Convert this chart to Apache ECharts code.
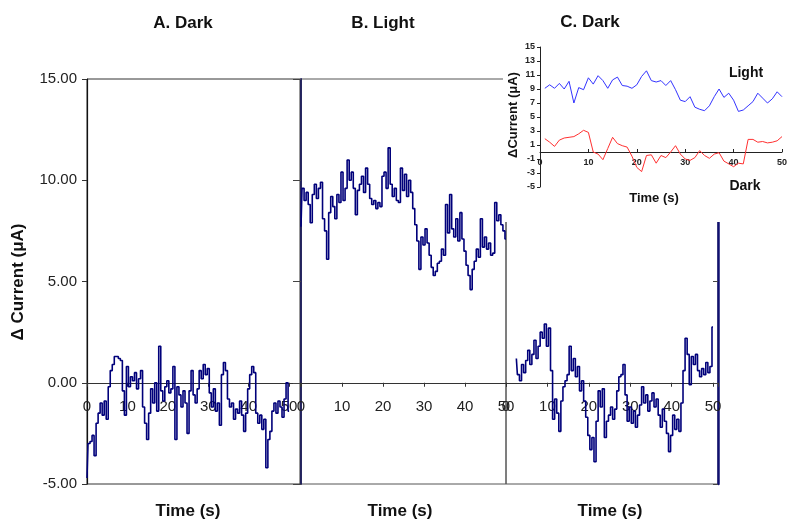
<!DOCTYPE html>
<html><head><meta charset="utf-8">
<script src="https://cdn.jsdelivr.net/npm/echarts@6/dist/echarts.min.js"></script>
<style>html,body{margin:0;padding:0;background:#fff}#c{width:790px;height:521px}</style>
</head><body><div id="c"></div>
<script>
// ---- data ----
const STEP = 0.5;          // seconds between samples in the main traces
const A_START = 0;
const darkA = [
 -4.7,-3.0,-2.9,-2.6,-3.6,-2.0,-1.5,-1.0,-1.6,-0.9,
 -1.8,-0.2,0.6,0.9,1.3,1.3,1.2,1.1,-0.4,-1.6,
 0.8,-0.2,0.3,0.1,0.5,-0.3,0.2,0.6,-1.2,-2.0,
 -2.8,-1.5,-0.3,-1.0,0.0,-1.4,1.8,-0.4,-0.9,-0.2,
 0.1,-0.5,-0.3,0.8,-2.8,-0.2,-0.6,-1.2,-0.4,-1.0,
 -2.5,-0.4,0.6,-0.6,-1.0,-0.3,0.6,0.2,0.9,0.4,
 0.7,-0.5,-1.2,-0.3,-1.4,-1.0,-2.1,0.4,1.0,0.6,
 -0.8,-1.2,-1.0,-1.8,-1.3,-1.5,-0.9,-1.6,-2.4,-1.5,
 -0.3,0.4,0.8,0.5,-1.5,-2.0,-1.6,-2.3,-1.8,-4.2,
 -2.8,-2.4,-1.4,-1.0,-1.5,-0.9,-1.2,-1.7,-0.8,0.0,
 -1.4
];
const B_START = 0;
const lightB = [
 7.7,9.6,9.0,9.4,8.8,7.9,9.3,9.8,9.1,9.6,
 9.9,8.1,7.5,6.1,8.4,9.2,8.7,8.1,9.3,8.9,
 10.4,9.0,9.6,11.0,10.0,10.4,9.6,8.3,9.5,9.8,
 10.2,9.4,10.6,9.8,9.1,8.8,9.0,8.6,8.9,8.7,
 10.2,10.4,9.6,11.6,9.8,9.2,9.6,9.0,8.9,10.6,
 9.5,10.3,9.2,10.0,9.4,8.6,7.8,7.0,5.6,7.2,
 6.8,7.6,6.9,6.3,5.7,5.3,5.5,5.9,6.0,6.6,
 6.3,8.8,7.4,9.3,7.6,7.2,8.1,7.0,8.4,7.1,
 6.5,5.8,5.3,4.6,5.6,6.0,6.6,6.2,8.1,6.7,
 7.2,6.6,6.9,6.3,6.4,8.9,8.0,8.3,7.8,7.5,
 7.1
];
const C_START = 2.5;
const darkC = [
 1.2,0.4,0.1,0.9,0.5,1.1,1.6,0.9,1.4,2.1,
 1.2,1.8,2.5,2.2,2.9,1.8,2.7,0.6,-1.8,-0.8,
 -1.5,-2.4,-0.9,-0.2,0.1,0.4,1.8,0.6,1.2,0.3,
 0.8,-0.4,0.1,-0.9,-1.7,-2.6,-3.3,-2.7,-3.9,-1.9,
 -0.4,-1.2,-0.3,-2.7,-1.9,-1.6,-1.2,-1.8,-1.3,-0.4,
 0.3,0.4,0.9,-0.6,-1.9,-1.2,-2.0,-1.4,-2.2,-1.6,
 -1.1,-0.2,-1.0,-0.6,-1.4,-0.9,-0.5,-1.2,-0.8,-1.6,
 -2.2,-1.3,-1.9,-2.5,-3.4,-2.6,-1.6,-2.3,-1.8,-2.4,
 -1.0,0.6,2.2,1.4,-0.1,1.3,0.9,1.4,0.6,0.3,
 0.7,0.4,1.0,0.5,0.8,2.75
];
const insetTimes = [1,2,3,4,5,6,7,8,9,10,11,12,13,14,15,16,17,18,19,20,21,22,23,24,25,
 26,27,28,29,30,31,32,33,34,35,36,37,38,39,40,41,42,43,44,45,46,47,48,49,50];
const insetLight = [
 9.1,9.6,9.1,9.8,9.0,10.1,7.0,9.2,8.9,10.6,
 9.7,10.9,10.2,9.1,10.3,10.7,9.5,9.4,9.1,9.6,
 10.8,11.6,10.2,10.0,10.2,9.5,10.2,8.9,7.4,7.2,
 7.9,6.4,6.1,5.9,6.6,7.9,9.0,7.8,8.4,7.4,
 5.8,6.0,6.6,7.2,8.4,7.7,7.0,7.6,8.6,7.9
];
const insetDark = [
 1.9,1.4,0.8,1.7,2.0,2.1,2.2,2.6,3.1,2.8,
 0.0,-0.3,-1.1,0.5,2.1,1.2,0.9,0.7,-0.6,-2.2,
 -2.8,-0.5,-0.4,-1.6,-0.5,-0.8,0.0,0.9,-0.3,-1.0,
 -1.2,-0.8,0.2,-0.5,-0.9,-0.3,-0.1,-1.3,-1.7,-2.1,
 -1.6,-1.7,1.8,1.8,1.4,1.5,1.3,1.4,1.6,2.2
];
const mainYTicks = {min:-5, max:15, step:5};
const insetYTicks = {min:-5, max:15, step:2};
const xTickStep = 10;
const panelTitles = ['A. Dark','B. Light','C. Dark'];

// ---- build ----
function pairs(start, vals){ return vals.map((v,i)=>[start + i*STEP, v]); }
const FF = '"Liberation Sans", Arial, sans-serif';
const navy = '#00007a';
const chart = echarts.init(document.getElementById('c'), null, {renderer:'canvas'});

function mainX(grid, max){
  return {type:'value', gridIndex:grid, min:0, max:max, interval:xTickStep,
    axisLine:{show:true, onZero:true, lineStyle:{color:'#333', width:1}},
    axisTick:{show:true, length:4, lineStyle:{color:'#333'}},
    axisLabel:{fontFamily:FF, fontSize:15, color:'#222', margin:-85,
      formatter:v=> (Math.abs(v % xTickStep) < 1e-6 ? String(v) : '')},
    splitLine:{show:false}};
}
function mainY(grid, extra){
  return Object.assign({type:'value', gridIndex:grid, min:mainYTicks.min, max:mainYTicks.max, interval:mainYTicks.step,
    splitLine:{show:false}}, extra);
}
const textEl = (text, x, y, size, rot) => ({type:'text', x:x, y:y, rotation:rot||0, z:40,
  style:{text:text, fill:'#111', font:'bold '+size+'px '+FF, align:'center', verticalAlign:'middle',
    textAlign:'center', textVerticalAlign:'middle'}});
const trace = (idx, start, vals) => ({type:'line', xAxisIndex:idx, yAxisIndex:idx, data:pairs(start, vals),
  showSymbol:false, step:'middle', lineStyle:{color:navy, width:1.6}, z:2});

const option = {
  animation:false,
  backgroundColor:'#fff',
  grid:[
    {left:87, top:79, width:213, height:405, show:true, borderColor:'#333', borderWidth:1},
    {left:301, top:79, width:205, height:405, show:true, borderColor:'#555', borderWidth:1},
    {left:506, top:79, width:212, height:405, show:true, borderColor:'#555', borderWidth:1},
    {left:540, top:47, width:250, height:140}
  ],
  xAxis:[
    mainX(0, 52.7), mainX(1, 50), mainX(2, 51.2),
    {type:'value', gridIndex:3, min:0, max:50, interval:xTickStep, z:30,
      axisLine:{show:true, onZero:true, lineStyle:{color:'#222', width:1}},
      axisTick:{show:true, inside:true, length:3, lineStyle:{color:'#222'}},
      axisLabel:{fontFamily:FF, fontSize:9, fontWeight:'bold', color:'#222', margin:-29},
      splitLine:{show:false}}
  ],
  yAxis:[
    mainY(0, {axisLine:{show:true, onZero:false, lineStyle:{color:'#111', width:1.2}},
      axisTick:{show:true, length:5, lineStyle:{color:'#333'}},
      axisLabel:{fontFamily:FF, fontSize:15, color:'#222', margin:10, formatter:v=>v.toFixed(2)}}),
    mainY(1, {axisLine:{show:true, onZero:false, lineStyle:{color:'#1a1a5a', width:1.8}},
      axisTick:{show:true, length:8, lineStyle:{color:'#444'}},
      axisLabel:{show:false}}),
    mainY(2, {position:'right', axisLine:{show:true, onZero:false, lineStyle:{color:'#101070', width:2.5}},
      axisTick:{show:true, inside:true, length:5, lineStyle:{color:'#444'}},
      axisLabel:{show:false}}),
    {type:'value', gridIndex:3, min:insetYTicks.min, max:insetYTicks.max, interval:insetYTicks.step, z:30,
      axisLine:{show:true, onZero:false, lineStyle:{color:'#222', width:1}},
      axisTick:{show:true, length:3, lineStyle:{color:'#222'}},
      axisLabel:{fontFamily:FF, fontSize:9, fontWeight:'bold', color:'#222', margin:5},
      splitLine:{show:false}}
  ],
  series:[
    trace(0, A_START, darkA),
    trace(1, B_START, lightB),
    trace(2, C_START, darkC),
    {type:'line', xAxisIndex:3, yAxisIndex:3, data:insetTimes.map((t,i)=>[t, insetLight[i]]), showSymbol:false,
      lineStyle:{color:'#3333ff', width:1}, z:30},
    {type:'line', xAxisIndex:3, yAxisIndex:3, data:insetTimes.map((t,i)=>[t, insetDark[i]]), showSymbol:false,
      lineStyle:{color:'#ff3030', width:1}, z:30}
  ],
  graphic:[
    {type:'rect', shape:{x:503, y:0, width:287, height:222}, style:{fill:'#fff'}, z:10, silent:true},
    textEl(panelTitles[0], 183, 23, 17),
    textEl(panelTitles[1], 383, 23, 17),
    textEl(panelTitles[2], 590, 22, 17),
    textEl('Time (s)', 188, 511, 17),
    textEl('Time (s)', 400, 511, 17),
    textEl('Time (s)', 610, 511, 17),
    textEl('\u0394 Current (\u03bcA)', 18, 282, 17, Math.PI/2),
    textEl('\u0394Current (\u03bcA)', 513, 115, 13, Math.PI/2),
    textEl('Time (s)', 654, 198, 13),
    textEl('Light', 746, 73, 14),
    textEl('Dark', 745, 186, 14)
  ]
};
chart.setOption(option);
</script></body></html>
